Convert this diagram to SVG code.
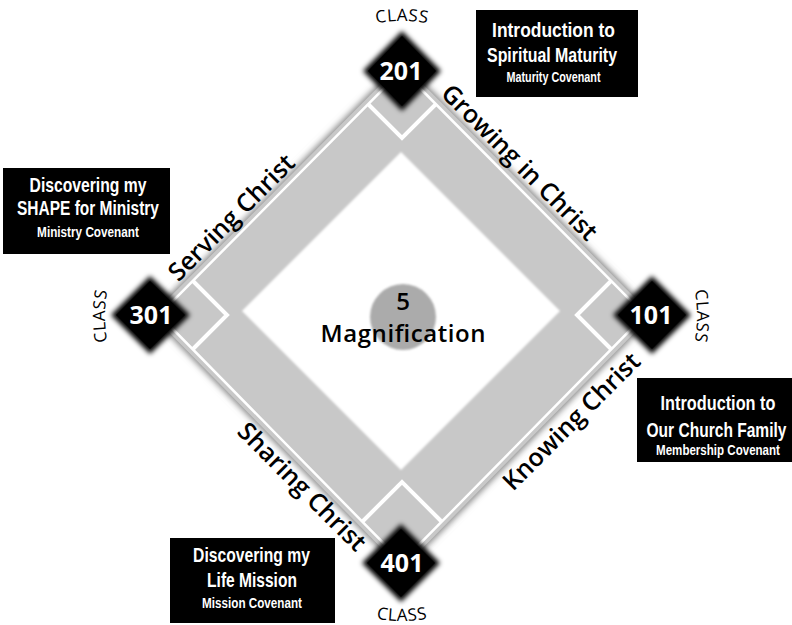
<svg xmlns="http://www.w3.org/2000/svg" width="792" height="625" viewBox="0 0 792 625">
<defs>
  <filter id="shadow" x="-10%" y="-10%" width="120%" height="120%"><feGaussianBlur stdDeviation="3"/></filter>
  <filter id="glow" x="-30%" y="-30%" width="160%" height="160%"><feGaussianBlur stdDeviation="2.5"/></filter>
  <filter id="soft" x="-10%" y="-10%" width="120%" height="120%"><feGaussianBlur stdDeviation="0.8"/></filter>
  <path id="pTop" d="M 366 26 A 130 130 0 0 1 438 26"/>
  <path id="pBot" d="M 366 616 A 130 130 0 0 0 438 616"/>
  <path id="pLeft" d="M 110 352 A 130 130 0 0 1 110 280"/>
  <path id="pRight" d="M 692 280 A 130 130 0 0 1 692 352"/>
</defs>
<style>
  .field{fill:#c8c8c8}
  .edge{fill:none;stroke:#fff;stroke-width:2.5}
  .base{fill:none;stroke:#fff;stroke-width:4}
  .dia{fill:#000}
  .num{font-family:'Open Sans','Liberation Sans',sans-serif;font-weight:700;font-size:25px;fill:#fff;text-anchor:middle}
  .cls{font-family:'Open Sans','Liberation Sans',sans-serif;font-size:17px;fill:#000;letter-spacing:0.5px;text-anchor:middle}
  .lbl{font-family:'Open Sans','Liberation Sans',sans-serif;font-weight:600;font-size:25px;fill:#000;text-anchor:middle}
  .ctr{font-family:'Open Sans','Liberation Sans',sans-serif;font-weight:600;font-size:24px;fill:#000;text-anchor:middle}
  .box{fill:#000}
  .bt{font-family:'Liberation Sans',Arial,sans-serif;font-weight:700;fill:#fff;text-anchor:middle}
  .b1{font-size:21px}
  .b3{font-size:14px}
</style>
<rect width="792" height="625" fill="#fff"/>

<g id="field">
  <polygon points="402,60 655,315 402,572 149,315" fill="#8a8a8a" filter="url(#shadow)"/>
  <polygon class="field" points="402,63 652,315 402,569 152,315"/>
  <polygon class="edge" points="402,70 645,315 402,562 159,315"/>
  <polygon points="401,152 560,311 401,470 242,311" fill="#fff" filter="url(#soft)"/>
</g>

<g id="connectors">
  <polyline class="base" points="368,104 402,138 436,104"/>
  <polyline class="base" points="193,281 227,315 193,349"/>
  <polyline class="base" points="611,281 577,315 611,349"/>
  <polyline class="base" points="362,522 402,482 442,522"/>
</g>

<g id="center">
  <circle cx="403" cy="317" r="33" fill="#ababab" filter="url(#soft)"/>
  <text class="ctr" x="403" y="310">5</text>
  <text class="ctr" x="403" y="342" textLength="165" lengthAdjust="spacing">Magnification</text>
</g>

<g id="class201">
  <polygon points="402,31 441,71 402,111 363,71" fill="#000" filter="url(#glow)"/>
  <polygon class="dia" points="402,36 436,71 402,106 368,71"/>
  <text class="num" x="401" y="80">201</text>
  <text class="cls"><textPath href="#pTop" startOffset="50%">CLASS</textPath></text>
</g>

<g id="class301">
  <polygon points="150,276 190,315 150,354 111,315" fill="#000" filter="url(#glow)"/>
  <polygon class="dia" points="150,281 185,315 150,349 116,315"/>
  <text class="num" x="151" y="324">301</text>
  <text class="cls"><textPath href="#pLeft" startOffset="50%">CLASS</textPath></text>
</g>

<g id="class101">
  <polygon points="652,276 691,315 652,354 613,315" fill="#000" filter="url(#glow)"/>
  <polygon class="dia" points="652,281 686,315 652,349 618,315"/>
  <text class="num" x="651" y="324">101</text>
  <text class="cls"><textPath href="#pRight" startOffset="50%">CLASS</textPath></text>
</g>

<g id="class401">
  <polygon points="401,524 440,563 401,602 362,563" fill="#000" filter="url(#glow)"/>
  <polygon class="dia" points="401,529 435,563 401,597 367,563"/>
  <text class="num" x="402" y="572">401</text>
  <text class="cls"><textPath href="#pBot" startOffset="50%">CLASS</textPath></text>
</g>

<g id="labels">
  <text class="lbl" transform="translate(513.5,168.5) rotate(45)">Growing in Christ</text>
  <text class="lbl" transform="translate(237.5,223.5) rotate(-45)">Serving Christ</text>
  <text class="lbl" transform="translate(577.5,427.5) rotate(-45)">Knowing Christ</text>
  <text class="lbl" transform="translate(296,492.8) rotate(45)">Sharing Christ</text>
</g>

<g id="box201">
  <rect class="box" x="476" y="10" width="162" height="87"/>
  <text class="bt b1" transform="translate(553.5,37) scale(0.83,1)">Introduction to</text>
  <text class="bt b1" transform="translate(552,62) scale(0.758,1)">Spiritual Maturity</text>
  <text class="bt b3" transform="translate(553.5,82) scale(0.77,1)">Maturity Covenant</text>
</g>

<g id="box301">
  <rect class="box" x="3" y="168" width="167" height="86"/>
  <text class="bt b1" transform="translate(88,192) scale(0.748,1)">Discovering my</text>
  <text class="bt b1" transform="translate(88,215) scale(0.738,1)">SHAPE for Ministry</text>
  <text class="bt b3" transform="translate(88,237) scale(0.84,1)">Ministry Covenant</text>
</g>

<g id="box101">
  <rect class="box" x="637" y="378" width="155" height="84"/>
  <text class="bt b1" transform="translate(718,410) scale(0.776,1)">Introduction to</text>
  <text class="bt b1" transform="translate(716.5,437) scale(0.741,1)">Our Church Family</text>
  <text class="bt b3" transform="translate(718,455) scale(0.826,1)">Membership Covenant</text>
</g>

<g id="box401">
  <rect class="box" x="170" y="538" width="165" height="85"/>
  <text class="bt b1" transform="translate(251.5,562) scale(0.748,1)">Discovering my</text>
  <text class="bt b1" transform="translate(252,587) scale(0.741,1)">Life Mission</text>
  <text class="bt b3" transform="translate(252,608) scale(0.835,1)">Mission Covenant</text>
</g>
</svg>
